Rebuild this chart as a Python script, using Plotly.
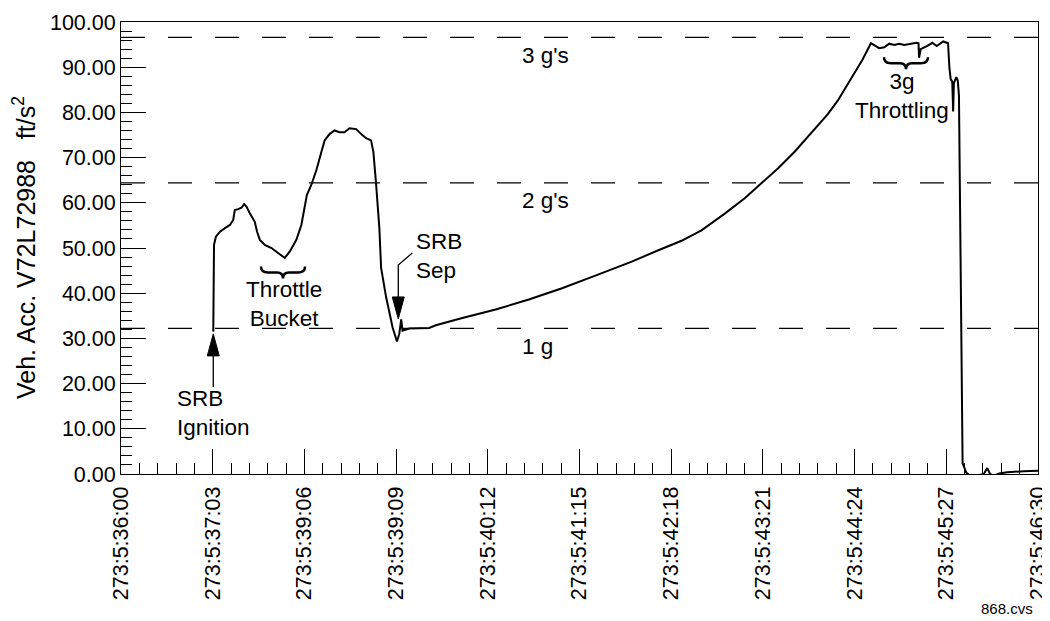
import plotly.graph_objects as go

# seconds after 273:5:36:00
t_sec = [63.4, 63.5, 63.9, 65.2, 68.0, 71.4, 74.8, 77.1, 78.2, 80.5,
         82.8, 84.6, 86.3, 88.5, 91.9, 93.5, 95.4, 98.8, 103.4, 107.9,
         112.5, 115.9, 120.5, 123.9, 126.2, 127.7, 130.8, 134.2, 137.6, 139.9,
         143.3, 146.7, 150.1, 153.5, 157.0, 161.6, 165.0, 168.4, 171.8, 173.4,
         175.2, 177.5, 178.7, 182.1, 186.6, 189.6, 191.2, 192.5, 193.4, 194.6,
         198.0, 211.7, 216.3, 234.5, 257.4, 280.2, 303.0, 325.9, 350.9, 369.2,
         385.1, 398.8, 414.8, 428.5, 439.9, 451.3, 462.8, 474.1, 485.6, 492.4,
         501.5, 509.5, 515.2, 520.9, 524.4, 527.8, 531.2, 534.6, 538.1, 542.6,
         546.5, 547.9, 548.3, 549.4, 554.0, 557.4, 560.4, 564.9, 568.2, 569.1,
         570.0, 571.1, 571.7, 572.2, 573.9, 574.9, 575.7, 578.2, 579.7, 580.7,
         582.6, 588.3, 592.8, 595.1, 597.1, 599.5, 603.3, 608.8, 620.2, 630.0]

accel = [31.5, 44.9, 50.7, 52.5, 53.6, 54.4, 55.1, 56.2, 58.4, 58.6,
         58.9, 59.7, 59.1, 57.7, 55.8, 53.6, 51.8, 50.7, 50.0, 48.9,
         47.8, 49.2, 51.8, 55.1, 59.1, 61.7, 64.0, 67.2, 71.2, 73.8,
         75.2, 76.0, 75.6, 75.6, 76.5, 76.3, 75.2, 74.3, 73.8, 71.2,
         64.4, 54.4, 45.6, 39.2, 32.4, 29.3, 31.0, 34.2, 31.7, 31.8,
         32.2, 32.3, 32.9, 34.5, 36.4, 38.6, 41.1, 43.9, 47.0, 49.5,
         51.6, 53.9, 57.6, 61.0, 64.2, 67.6, 71.3, 75.3, 79.6, 82.6,
         87.4, 91.7, 95.3, 94.2, 94.4, 95.2, 94.9, 95.2, 94.9, 95.2,
         95.4, 95.3, 92.1, 94.0, 94.7, 95.4, 94.7, 95.7, 95.3, 90.0,
         87.4, 86.8, 80.2, 86.5, 87.8, 87.0, 83.7, 2.4, 1.2, 0.3,
         -0.2, -0.3, 0.0, 1.3, 0.0, -0.4, 0.1, 0.4, 0.6, 0.7]

tick_sec = [0, 63, 126, 189, 252, 315, 378, 441, 504, 567, 630]
tick_text = ["273:5:36:00", "273:5:37:03", "273:5:39:06", "273:5:39:09",
             "273:5:40:12", "273:5:41:15", "273:5:42:18", "273:5:43:21",
             "273:5:44:24", "273:5:45:27", "273:5:46:30"]

g_levels = [32.2, 64.4, 96.6]
g_labels = ["1 g", "2 g's", "3 g's"]

FONT = "Liberation Sans, Arial, sans-serif"

fig = go.Figure()
fig.add_trace(go.Scatter(x=t_sec, y=accel, mode="lines",
                         line=dict(color="black", width=2), showlegend=False))

shapes = []
annos = []
for g, lab in zip(g_levels, g_labels):
    shapes.append(dict(type="line", xref="x", yref="y", x0=0, x1=630, y0=g, y1=g,
                       line=dict(color="black", width=1.3, dash="24px,23px")))
    annos.append(dict(x=274, y=g - 4.0, text=lab, xanchor="left"))

brace = "M-22,0 Q-22,-6 -15,-6 L-6,-6 Q0,-6 0,-12 Q0,-6 6,-6 L15,-6 Q22,-6 22,0"
for bx, by in [(111.3, 45.9), (539.3, 92.2)]:
    shapes.append(dict(type="path", xref="x", yref="y", xsizemode="pixel", ysizemode="pixel",
                       xanchor=bx, yanchor=by, path=brace,
                       line=dict(color="black", width=2.5)))

# SRB ignition arrow (points up)
shapes.append(dict(type="path", xref="x", yref="y", xsizemode="pixel", ysizemode="pixel",
                   xanchor=63.4, yanchor=31.0, path="M0,0 L-6,-22 L6,-22 Z",
                   fillcolor="black", line=dict(color="black", width=1)))
shapes.append(dict(type="path", xref="x", yref="y", xsizemode="pixel", ysizemode="pixel",
                   xanchor=63.4, yanchor=31.0, path="M0,-22 L0,-53",
                   line=dict(color="black", width=1.3)))
# SRB sep arrow (points down, with leader)
shapes.append(dict(type="path", xref="x", yref="y", xsizemode="pixel", ysizemode="pixel",
                   xanchor=190.5, yanchor=34.3, path="M0,0 L-6,22 L6,22 Z",
                   fillcolor="black", line=dict(color="black", width=1)))
shapes.append(dict(type="path", xref="x", yref="y", xsizemode="pixel", ysizemode="pixel",
                   xanchor=190.5, yanchor=34.3, path="M0,22 L0,54 L14,66",
                   line=dict(color="black", width=1.3)))

annos += [
    dict(x=111.9, y=37.6, text="Throttle<br>Bucket", xanchor="center"),
    dict(x=37.2, y=13.4, text="SRB<br>Ignition", xanchor="left", align="left"),
    dict(x=201.5, y=48.3, text="SRB<br>Sep", xanchor="left", align="left"),
    dict(x=536.8, y=83.6, text="3g<br>Throttling", xanchor="center"),
]
for a in annos:
    a.update(xref="x", yref="y", showarrow=False, yanchor="middle", font=dict(size=22.5))

annos.append(dict(xref="paper", yref="paper", x=-0.1057, y=0.5, textangle=-90,
                  text="Veh. Acc. V72L72988\u00a0\u00a0 ft/s<sup>2</sup>", showarrow=False,
                  xanchor="center", yanchor="middle", font=dict(size=25)))
annos.append(dict(xref="paper", yref="paper", x=0.9967, y=-0.2965, text="868.cvs",
                  showarrow=False, xanchor="right", yanchor="middle", font=dict(size=15)))

# page body has an 8px margin, so the figure is 8px smaller than the window
fig.update_layout(
    width=1042, height=613,
    margin=dict(l=113, r=12, t=14, b=147),
    paper_bgcolor="white", plot_bgcolor="white",
    font=dict(family=FONT, size=21.5, color="black"),
    shapes=shapes, annotations=annos,
    xaxis=dict(range=[0, 630], tickmode="array", tickvals=tick_sec, ticktext=tick_text,
               tickangle=-90, ticks="inside", ticklen=25, tickwidth=1, tickcolor="black",
               showline=True, linecolor="black", linewidth=1, mirror=True,
               showgrid=False, zeroline=False, automargin=False, ticklabelstandoff=3,
               ticklabeloverflow="allow",
               minor=dict(tick0=0, dtick=12.6, ticks="inside", ticklen=11,
                          tickcolor="black", showgrid=False)),
    yaxis=dict(range=[0, 100], dtick=10, tickformat=".2f", ticks="inside", ticklen=25,
               tickwidth=1, tickcolor="black", automargin=False,
               showline=True, linecolor="black", linewidth=1, mirror=True,
               showgrid=False, zeroline=False, ticklabeloverflow="allow",
               minor=dict(dtick=2, ticks="inside", ticklen=11,
                          tickcolor="black", showgrid=False)),
)

fig.write_html("out.html")
